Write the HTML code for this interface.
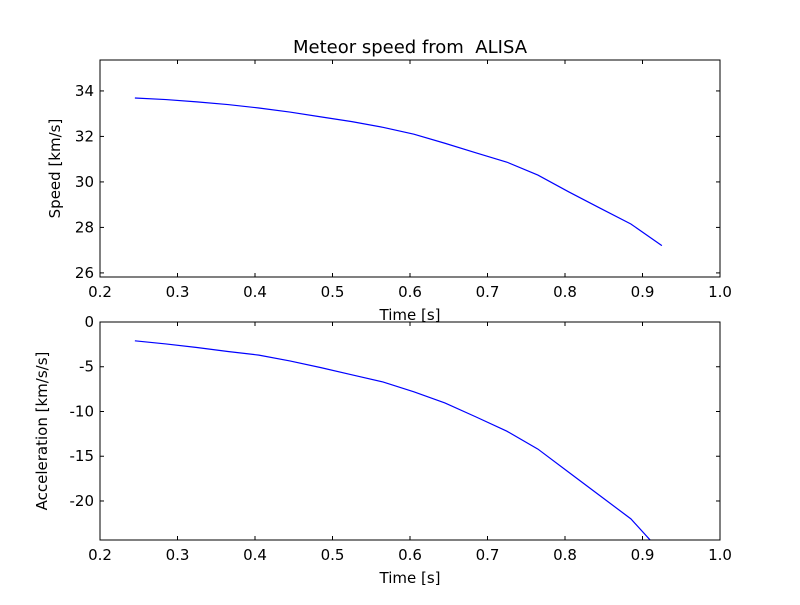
<!DOCTYPE html>
<html><head><meta charset="utf-8"><style>
body{margin:0;background:#fff}
text{font-family:"DejaVu Sans","Liberation Sans",sans-serif;fill:#000}
</style></head><body>
<svg id="chart" width="800" height="600" viewBox="0 0 800 600" xmlns="http://www.w3.org/2000/svg">
<rect width="800" height="600" fill="#fff"/>
<text x="410" y="53" font-size="18" text-anchor="middle" style="white-space:pre" xml:space="preserve">Meteor speed from  ALISA</text>
<g id="g1"></g><g id="g2"></g>
</svg>
<script>
const times=[0.245,0.285,0.325,0.365,0.405,0.445,0.485,0.525,0.565,0.605,0.645,0.685,0.725,0.765,0.805,0.845,0.885,0.925];
const speed=[33.69,33.62,33.52,33.4,33.25,33.07,32.86,32.65,32.4,32.1,31.7,31.28,30.87,30.3,29.56,28.85,28.15,27.2];
const accel=[-2.1,-2.45,-2.85,-3.3,-3.7,-4.35,-5.1,-5.9,-6.7,-7.8,-9.05,-10.6,-12.2,-14.2,-16.8,-19.4,-22.0,-25.8];
const xTicks=[0.2,0.3,0.4,0.5,0.6,0.7,0.8,0.9,1.0];
const speedTicks=[26,28,30,32,34];
const accelTicks=[0,-5,-10,-15,-20];
const NS="http://www.w3.org/2000/svg";
function mk(p,tag,attrs){const e=document.createElementNS(NS,tag);for(const k in attrs)e.setAttribute(k,attrs[k]);p.appendChild(e);return e;}
function panel(g,L,T,R,B,ymin,ymax,ys,yt,ylab,pfx,yoff){
  const sx=v=>L+(v-0.2)/(0.8)*(R-L), sy=v=>B-(v-ymin)/(ymax-ymin)*(B-T);
  const cid=pfx+"clip";
  const d=mk(g,"defs",{});const cp=mk(d,"clipPath",{id:cid});mk(cp,"rect",{x:L,y:T,width:R-L,height:B-T});
  const line=mk(g,"polyline",{points:times.map((t,i)=>sx(t)+","+sy(ys[i])).join(" "),fill:"none",stroke:"#0000ff","stroke-width":1.2,"clip-path":"url(#"+cid+")"});
  
  
  const fr=mk(g,"rect",{x:L,y:T,width:R-L,height:B-T,fill:"none",stroke:"#000","stroke-width":1});
  
  
  xTicks.forEach(v=>{const x=sx(v);
    mk(g,"line",{x1:x,x2:x,y1:B,y2:B-4,stroke:"#000"});mk(g,"line",{x1:x,x2:x,y1:T,y2:T+4,stroke:"#000"});
    const t=mk(g,"text",{x:x,y:B+20,"font-size":15,"text-anchor":"middle"});t.textContent=v.toFixed(1);
    
    });
  yt.forEach(v=>{const y=sy(v);
    mk(g,"line",{x1:L,x2:L+4,y1:y,y2:y,stroke:"#000"});mk(g,"line",{x1:R,x2:R-4,y1:y,y2:y,stroke:"#000"});
    const t=mk(g,"text",{x:L-6,y:y+5,"font-size":15,"text-anchor":"end"});t.textContent=String(v);
    
    });
  const xl=mk(g,"text",{x:(L+R)/2,y:B+43,"font-size":15,"text-anchor":"middle"});xl.textContent="Time [s]";
  
  
  const yx=L-yoff,yy=(T+B)/2;
  const yl=mk(g,"text",{x:yx,y:yy,"font-size":15,"text-anchor":"middle",transform:"rotate(-90 "+yx+" "+yy+")"});yl.textContent=ylab;
  
  
}
panel(document.getElementById("g1"),100,60,720,277,25.82,35.36,speed,speedTicks,"Speed [km/s]","speed",40);
panel(document.getElementById("g2"),100,322,720,540,-24.36,0,accel,accelTicks,"Acceleration [km/s/s]","accel",53);
</script>
</body></html>
